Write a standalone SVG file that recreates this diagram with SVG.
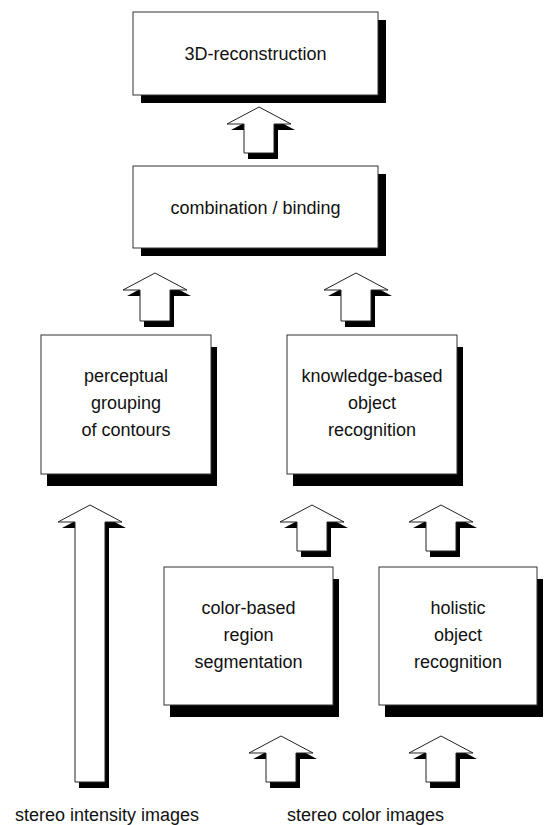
<svg xmlns="http://www.w3.org/2000/svg" width="550" height="825" viewBox="0 0 550 825">
<style>
.box{fill:#fff;stroke:#333;stroke-width:1}
.sh{fill:#000}
.ar{fill:#fff;stroke:#222;stroke-width:1}
text{font-family:"Liberation Sans",Arial,Helvetica,sans-serif;font-size:18px;fill:#111;text-anchor:middle}
.lbl{text-anchor:start}
</style>
<rect width="550" height="825" fill="#fff"/>
<g id="connectors">
  <!-- arrow 1: combination -> 3D -->
  <g transform="translate(4,6)"><polygon class="sh" points="259,107 291,124 274,124 274,153 244,153 244,124 227,124"/></g>
  <polygon class="ar" points="259,107 291,124 274,124 274,153 244,153 244,124 227,124"/>
  <!-- arrow 2: perceptual -> combination -->
  <g transform="translate(4,6)"><polygon class="sh" points="155,273 187,290 170,290 170,321 140,321 140,290 123,290"/></g>
  <polygon class="ar" points="155,273 187,290 170,290 170,321 140,321 140,290 123,290"/>
  <!-- arrow 3: knowledge -> combination -->
  <g transform="translate(4,6)"><polygon class="sh" points="356,273 388,290 371,290 371,321 341,321 341,290 324,290"/></g>
  <polygon class="ar" points="356,273 388,290 371,290 371,321 341,321 341,290 324,290"/>
  <!-- arrow 4: stereo intensity -> perceptual -->
  <g transform="translate(4,6)"><polygon class="sh" points="90,505 122,522 105,522 105,782 75,782 75,522 58,522"/></g>
  <polygon class="ar" points="90,505 122,522 105,522 105,782 75,782 75,522 58,522"/>
  <!-- arrow 5: color-based -> knowledge -->
  <g transform="translate(4,6)"><polygon class="sh" points="312,505 344,522 327,522 327,551 297,551 297,522 280,522"/></g>
  <polygon class="ar" points="312,505 344,522 327,522 327,551 297,551 297,522 280,522"/>
  <!-- arrow 6: holistic -> knowledge -->
  <g transform="translate(4,6)"><polygon class="sh" points="441,505 473,522 456,522 456,551 426,551 426,522 409,522"/></g>
  <polygon class="ar" points="441,505 473,522 456,522 456,551 426,551 426,522 409,522"/>
  <!-- arrow 7: stereo color -> color-based -->
  <g transform="translate(4,6)"><polygon class="sh" points="281,736 313,753 296,753 296,782 266,782 266,753 249,753"/></g>
  <polygon class="ar" points="281,736 313,753 296,753 296,782 266,782 266,753 249,753"/>
  <!-- arrow 8: stereo color -> holistic -->
  <g transform="translate(4,6)"><polygon class="sh" points="441,736 473,753 456,753 456,782 426,782 426,753 409,753"/></g>
  <polygon class="ar" points="441,736 473,753 456,753 456,782 426,782 426,753 409,753"/>
</g>
<g id="n-3d">
  <rect class="sh" x="141" y="20" width="245" height="83"/>
  <rect class="box" x="133" y="12" width="245" height="83"/>
  <text x="255.5" y="60">3D-reconstruction</text>
</g>
<g id="n-combination">
  <rect class="sh" x="141" y="174" width="245" height="82"/>
  <rect class="box" x="133" y="166" width="245" height="82"/>
  <text x="255.5" y="214">combination / binding</text>
</g>
<g id="n-perceptual">
  <rect class="sh" x="47" y="347" width="170" height="139"/>
  <rect class="box" x="41" y="335" width="170" height="139"/>
  <text x="126" y="382">perceptual</text>
  <text x="126" y="409">grouping</text>
  <text x="126" y="436">of contours</text>
</g>
<g id="n-knowledge">
  <rect class="sh" x="293" y="347" width="170" height="139"/>
  <rect class="box" x="287" y="335" width="170" height="139"/>
  <text x="372" y="382">knowledge-based</text>
  <text x="372" y="409">object</text>
  <text x="372" y="436">recognition</text>
</g>
<g id="n-colorbased">
  <rect class="sh" x="170" y="579" width="169" height="138"/>
  <rect class="box" x="164" y="567" width="169" height="138"/>
  <text x="248.5" y="614">color-based</text>
  <text x="248.5" y="641">region</text>
  <text x="248.5" y="668">segmentation</text>
</g>
<g id="n-holistic">
  <rect class="sh" x="385" y="579" width="158" height="138"/>
  <rect class="box" x="379" y="567" width="158" height="138"/>
  <text x="458" y="614">holistic</text>
  <text x="458" y="641">object</text>
  <text x="458" y="668">recognition</text>
</g>
<g id="n-stereo-intensity">
  <text class="lbl" x="15" y="821">stereo intensity images</text>
</g>
<g id="n-stereo-color">
  <text class="lbl" x="287" y="821">stereo color images</text>
</g>
</svg>
